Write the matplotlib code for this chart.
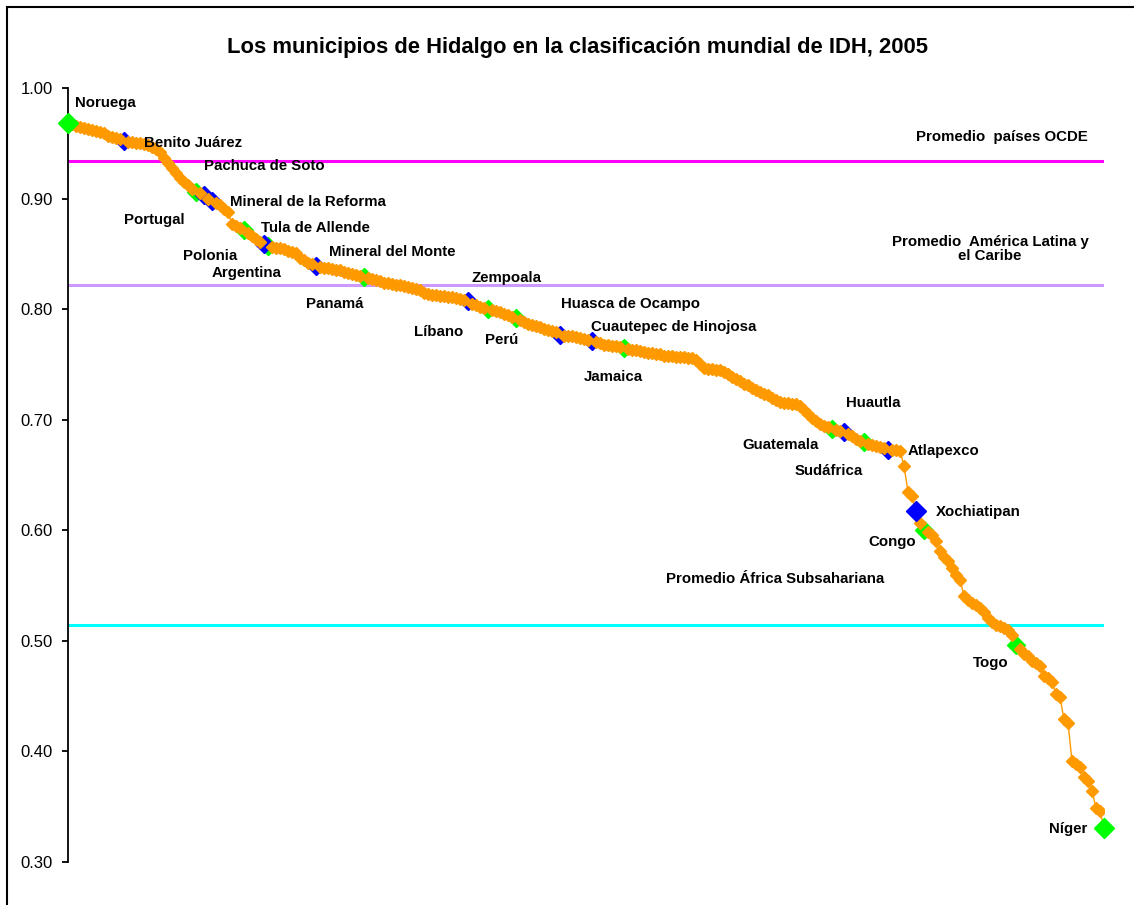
import matplotlib.pyplot as plt
from matplotlib.patches import Rectangle

# IDH de paises y municipios de Hidalgo, ordenados de mayor a menor
idh = [
    0.968, 0.967, 0.966, 0.965, 0.964, 0.963, 0.962, 0.961, 0.960, 0.959,
    0.957, 0.956, 0.955, 0.954, 0.952, 0.951, 0.951, 0.950, 0.950, 0.949,
    0.948, 0.947, 0.945, 0.942, 0.937, 0.932, 0.928, 0.923, 0.919, 0.915,
    0.912, 0.909, 0.906, 0.905, 0.903, 0.900, 0.898, 0.896, 0.894, 0.891,
    0.888, 0.877, 0.875, 0.873, 0.872, 0.869, 0.866, 0.863, 0.861, 0.859,
    0.857, 0.856, 0.855, 0.855, 0.854, 0.853, 0.852, 0.851, 0.846, 0.844,
    0.842, 0.841, 0.839, 0.838, 0.837, 0.837, 0.836, 0.835, 0.835, 0.834,
    0.833, 0.832, 0.831, 0.830, 0.829, 0.828, 0.827, 0.826, 0.825, 0.824,
    0.824, 0.823, 0.822, 0.822, 0.821, 0.820, 0.819, 0.818, 0.817, 0.815,
    0.814, 0.813, 0.813, 0.812, 0.812, 0.811, 0.811, 0.810, 0.809, 0.808,
    0.807, 0.805, 0.804, 0.802, 0.801, 0.800, 0.799, 0.798, 0.797, 0.796,
    0.795, 0.793, 0.792, 0.790, 0.788, 0.787, 0.786, 0.785, 0.784, 0.782,
    0.781, 0.780, 0.779, 0.777, 0.776, 0.776, 0.776, 0.775, 0.774, 0.773,
    0.772, 0.771, 0.770, 0.769, 0.768, 0.768, 0.767, 0.767, 0.766, 0.765,
    0.764, 0.763, 0.763, 0.762, 0.761, 0.760, 0.760, 0.759, 0.759, 0.758,
    0.758, 0.758, 0.757, 0.757, 0.757, 0.756, 0.756, 0.754, 0.750, 0.747,
    0.746, 0.746, 0.745, 0.745, 0.743, 0.741, 0.739, 0.737, 0.735, 0.732,
    0.731, 0.729, 0.727, 0.725, 0.723, 0.722, 0.720, 0.718, 0.716, 0.715,
    0.715, 0.714, 0.714, 0.712, 0.709, 0.705, 0.702, 0.699, 0.696, 0.694,
    0.693, 0.692, 0.691, 0.690, 0.689, 0.687, 0.685, 0.683, 0.681, 0.680,
    0.678, 0.677, 0.676, 0.675, 0.674, 0.673, 0.673, 0.673, 0.672, 0.658,
    0.635, 0.631, 0.617, 0.607, 0.600, 0.598, 0.596, 0.590, 0.581, 0.576,
    0.572, 0.566, 0.560, 0.555, 0.541, 0.537, 0.534, 0.532, 0.530, 0.526,
    0.521, 0.517, 0.514, 0.513, 0.512, 0.510, 0.505, 0.496, 0.493, 0.488,
    0.486, 0.482, 0.480, 0.477, 0.468, 0.466, 0.463, 0.452, 0.449, 0.429,
    0.426, 0.391, 0.389, 0.386, 0.377, 0.373, 0.364, 0.349, 0.346, 0.331,
]

# posiciones (indice en la serie) de paises y municipios destacados
paises_idx = [0, 32, 44, 50, 74, 105, 112, 139, 191, 199, 214, 237, 259]
municipios_idx = [14, 34, 36, 49, 62, 100, 123, 131, 194, 205, 212]
grandes_idx = [0, 212, 259]

prom_ocde = 0.934
prom_alc = 0.822
prom_africa = 0.514

# etiquetas: texto, x px, y px
etiquetas = [
    ("Noruega", 75, 103),
    ("Benito Juárez", 144, 143),
    ("Pachuca de Soto", 204, 166),
    ("Mineral de la Reforma", 230, 202),
    ("Portugal", 124, 220),
    ("Tula de Allende", 261, 228),
    ("Polonia", 183, 256),
    ("Mineral del Monte", 329, 252),
    ("Argentina", 212, 273),
    ("Zempoala", 471, 278),
    ("Panamá", 306, 304),
    ("Huasca de Ocampo", 561, 304),
    ("Cuautepec de Hinojosa", 591, 327),
    ("Líbano", 414, 332),
    ("Perú", 485, 340),
    ("Jamaica", 584, 377),
    ("Huautla", 846, 403),
    ("Guatemala", 742, 445),
    ("Atlapexco", 908, 451),
    ("Sudáfrica", 795, 471),
    ("Xochiatipan", 936, 512),
    ("Congo", 868, 542),
    ("Promedio África Subsahariana", 666, 579),
    ("Togo", 973, 663),
    ("Níger", 1049, 829),
    ("Promedio  países OCDE", 916, 137),
]

plt.rcParams['font.family'] = ['Liberation Sans', 'DejaVu Sans']

W, H = 1134, 905
fig = plt.figure(figsize=(W / 100, H / 100), dpi=100)
ax = fig.add_axes([68 / W, 1 - 862 / H, (1104 - 68) / W, (862 - 88) / H])

x = list(range(len(idh)))
naranja = '#FF9900'

ax.axhline(prom_ocde, color='#FF00FF', lw=2.2, zorder=1)
ax.axhline(prom_alc, color='#CC99FF', lw=2.2, zorder=1)
ax.axhline(prom_africa, color='#00FFFF', lw=2.2, zorder=1)

ax.plot(x, idh, color=naranja, lw=1.0, zorder=2)

chicos_p = [i for i in paises_idx if i not in grandes_idx]
chicos_m = [i for i in municipios_idx if i not in grandes_idx]
ax.plot(chicos_p, [idh[i] for i in chicos_p], ls='none', marker='D',
        ms=9, color='#00FF00', zorder=3)
ax.plot(chicos_m, [idh[i] for i in chicos_m], ls='none', marker='D',
        ms=9, color='#0000FF', zorder=3)

resto = [i for i in x if i not in paises_idx and i not in municipios_idx]
ax.plot(resto, [idh[i] for i in resto], ls='none', marker='D', ms=6.5,
        color=naranja, zorder=4)

for i in grandes_idx:
    c = '#0000FF' if i in municipios_idx else '#00FF00'
    ax.plot(i, idh[i], ls='none', marker='D', ms=10, color=c,
            zorder=5, clip_on=False)

ax.set_xlim(0, len(idh) - 1)
ax.set_ylim(0.30, 1.00)
ax.set_yticks([0.3, 0.4, 0.5, 0.6, 0.7, 0.8, 0.9, 1.0])
ax.set_yticklabels([f'{v:.2f}' for v in ax.get_yticks()], fontsize=12)
ax.set_xticks([])
for s in ['top', 'right', 'bottom']:
    ax.spines[s].set_visible(False)
ax.spines['left'].set_linewidth(1.3)
ax.tick_params(axis='y', direction='out', length=4, width=1.3, pad=7)

for texto, px, py in etiquetas:
    fig.text(px / W, 1 - py / H, texto, fontsize=10.8, fontweight='bold',
             ha='left', va='center')
fig.text(990 / W, 1 - 249 / H, 'Promedio  América Latina y\nel Caribe',
         fontsize=10.8, fontweight='bold', ha='center', va='center',
         multialignment='center', linespacing=1.0)

fig.text(577 / W, 1 - 47 / H,
         'Los municipios de Hidalgo en la clasificación mundial de IDH, 2005',
         fontsize=15.8, fontweight='bold', ha='center', va='center')

fig.patches.append(Rectangle((7 / W, -0.1), 1.2, 1.1 - 7 / H,
                             transform=fig.transFigure, fill=False,
                             ec='black', lw=1.5))

fig.savefig('out.png', dpi=100)
